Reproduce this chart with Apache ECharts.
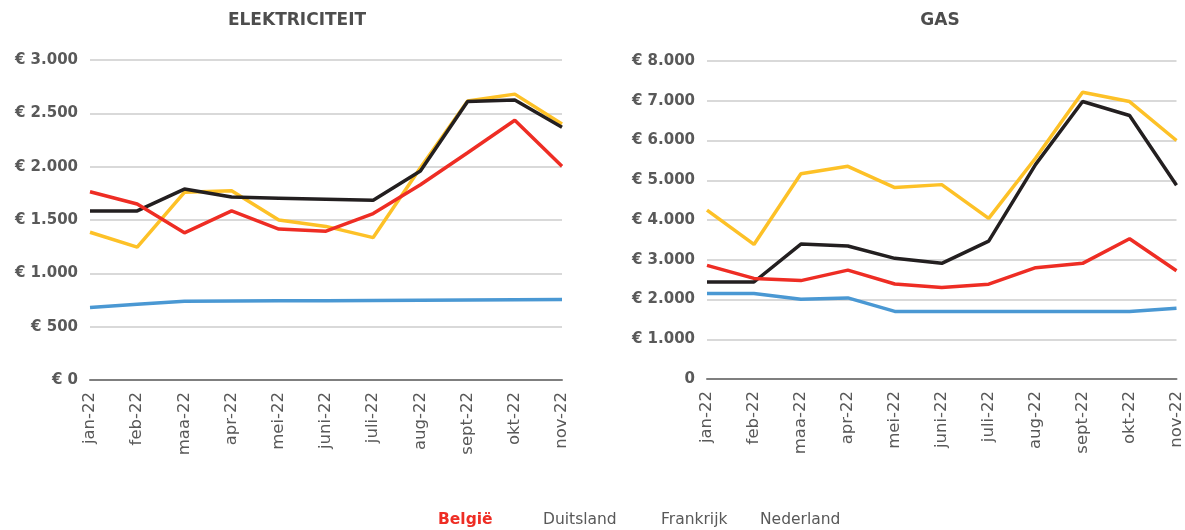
<!DOCTYPE html>
<html>
<head>
<meta charset="utf-8">
<script src="https://cdn.jsdelivr.net/npm/echarts@6/dist/echarts.min.js"></script>
<style>
  html, body { margin: 0; padding: 0; background: #fff; }
  #chart { width: 1185px; height: 530px; }
</style>
</head>
<body>
<div id="chart"></div>
<script>
// maanden
const months = ['jan-22', 'feb-22', 'maa-22', 'apr-22', 'mei-22', 'juni-22', 'juli-22', 'aug-22', 'sept-22', 'okt-22', 'nov-22'];
const countries = ['België', 'Duitsland', 'Frankrijk', 'Nederland'];

// elektriciteit (euro per jaar)
const elecBelgie = [1765, 1650, 1380, 1585, 1415, 1395, 1560, 1830, 2130, 2435, 2005];
const elecDuitsland = [1585, 1585, 1790, 1715, 1705, 1695, 1685, 1960, 2610, 2625, 2370];
const elecFrankrijk = [680, 710, 738, 740, 742, 744, 746, 748, 750, 752, 754];
const elecNederland = [1385, 1245, 1760, 1775, 1500, 1440, 1335, 1990, 2615, 2680, 2400];

// gas (euro per jaar)
const gasBelgie = [2860, 2530, 2475, 2740, 2390, 2300, 2385, 2800, 2910, 3530, 2725];
const gasDuitsland = [2440, 2440, 3395, 3345, 3035, 2910, 3470, 5400, 6980, 6630, 4875];
const gasFrankrijk = [2150, 2150, 2005, 2040, 1700, 1700, 1700, 1700, 1700, 1700, 1780];
const gasNederland = [4250, 3385, 5165, 5350, 4815, 4890, 4040, 5560, 7215, 6980, 6000];

const colors = ['#ee2d24', '#231f20', '#4a98d3', '#fdc127'];
const font = 'DejaVu Sans';
// legenda posities (links, px)
const legendLeft = [427, 532, 650, 749];

function euro(v, zeroPlain) {
    if (v === 0 && zeroPlain) return '0';
    return '€ ' + v.toString().replace(/\B(?=(\d{3})+(?!\d))/g, '.');
}

function makeSeries(name, data, idx, axis) {
    return {
        name: name,
        type: 'line',
        data: data,
        xAxisIndex: axis,
        yAxisIndex: axis,
        symbol: 'none',
        color: colors[idx],
        lineStyle: { width: 3.5, color: colors[idx] },
        z: idx === 0 ? 5 : 3
    };
}

const chart = echarts.init(document.getElementById('chart'));

const yAxisBase = {
    type: 'value',
    axisLine: { show: false },
    axisTick: { show: false },
    splitLine: { lineStyle: { color: '#d9d9d9', width: 2 } },
    axisLabel: { color: '#595959', fontFamily: font, fontWeight: 'bold', fontSize: 15, margin: 12 }
};
const xAxisBase = {
    type: 'category',
    data: months,
    boundaryGap: false,
    axisLine: { lineStyle: { color: '#7f7f7f', width: 2 } },
    axisTick: { show: false },
    axisLabel: { color: '#595959', fontFamily: font, fontSize: 16.5, rotate: 90, margin: 12, interval: 0 }
};

const legends = countries.map((c, i) => ({
    top: 507,
    left: legendLeft[i],
    itemWidth: 0,
    itemHeight: 0,
    selectedMode: false,
    data: [i === 0 ? { name: c, textStyle: { color: '#ee2d24', fontWeight: 'bold' } } : { name: c }],
    textStyle: { fontFamily: font, fontSize: 15.5, color: '#595959' }
}));

const option = {
    animation: false,
    title: [
        { text: 'ELEKTRICITEIT', left: 292, top: 7, textAlign: 'center',
          textStyle: { fontFamily: font, fontWeight: 'bold', fontSize: 17, color: '#4d4d4d' } },
        { text: 'GAS', left: 935, top: 7, textAlign: 'center',
          textStyle: { fontFamily: font, fontWeight: 'bold', fontSize: 17, color: '#4d4d4d' } }
    ],
    grid: [
        { left: 90, right: 623, top: 60, bottom: 150 },
        { left: 707, right: 5, top: 61, bottom: 151 }
    ],
    xAxis: [
        Object.assign({ gridIndex: 0 }, xAxisBase),
        Object.assign({ gridIndex: 1 }, xAxisBase)
    ],
    yAxis: [
        Object.assign({}, yAxisBase, { gridIndex: 0, min: 0, max: 3000, interval: 500,
            axisLabel: Object.assign({}, yAxisBase.axisLabel, { formatter: v => euro(v, false) }) }),
        Object.assign({}, yAxisBase, { gridIndex: 1, min: 0, max: 8000, interval: 1000,
            axisLabel: Object.assign({}, yAxisBase.axisLabel, { formatter: v => euro(v, true) }) })
    ],
    legend: legends,
    series: [
        makeSeries('Frankrijk', elecFrankrijk, 2, 0),
        makeSeries('Nederland', elecNederland, 3, 0),
        makeSeries('Duitsland', elecDuitsland, 1, 0),
        makeSeries('België', elecBelgie, 0, 0),
        makeSeries('Frankrijk', gasFrankrijk, 2, 1),
        makeSeries('Duitsland', gasDuitsland, 1, 1),
        makeSeries('Nederland', gasNederland, 3, 1),
        makeSeries('België', gasBelgie, 0, 1)
    ]
};

chart.setOption(option);
</script>
</body>
</html>
